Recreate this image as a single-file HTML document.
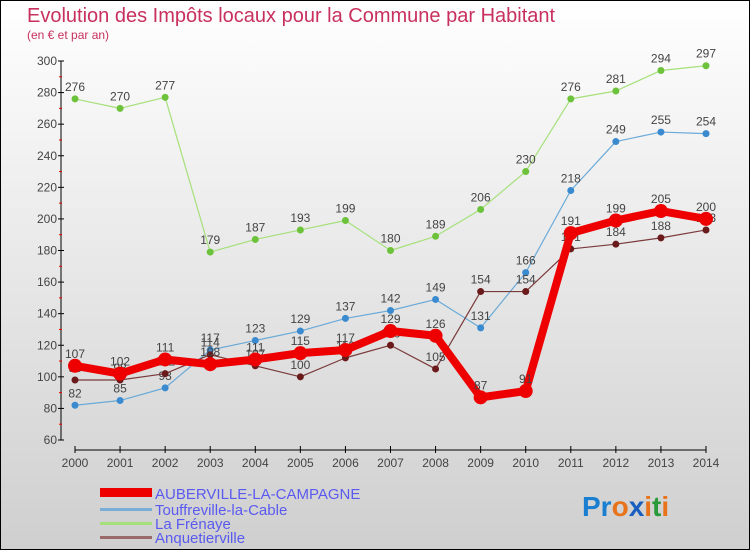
<!DOCTYPE html>
<html><head><meta charset="utf-8"><style>
body{margin:0;}
svg{display:block;font-family:"Liberation Sans",sans-serif;}
</style></head><body>
<svg id="c" width="750" height="550" viewBox="0 0 750 550">
<defs><linearGradient id="bg" x1="0" y1="0" x2="0" y2="1"><stop offset="0" stop-color="#ffffff"/><stop offset="1" stop-color="#cfcfcf"/></linearGradient></defs>
<rect x="0.5" y="0.5" width="749" height="549" fill="url(#bg)" stroke="#000"/>
<text x="27" y="22" font-size="20" fill="#c8305e">Evolution des Impôts locaux pour la Commune par Habitant</text>
<text x="27" y="39" font-size="12" fill="#c8305e">(en € et par an)</text>
<g id="axes"></g><g id="series"></g>
<g>
<rect x="100" y="488" width="52" height="9" fill="#e00"/>
<text x="155" y="499" font-size="15" fill="#5a5af0">AUBERVILLE-LA-CAMPAGNE</text>
<rect x="100" y="508" width="52" height="3" fill="#7aaed6"/>
<text x="155" y="515" font-size="15" fill="#5a5af0">Touffreville-la-Cable</text>
<rect x="100" y="522" width="52" height="3" fill="#a6e07a"/>
<text x="155" y="529" font-size="15" fill="#5a5af0">La Frénaye</text>
<rect x="100" y="536" width="52" height="3" fill="#9a6a6a"/>
<text x="155" y="543" font-size="15" fill="#5a5af0">Anquetierville</text>
</g>
<text x="582" y="516" font-size="28" font-weight="bold"><tspan fill="#1a7fd0">Pr</tspan><tspan fill="#e8731a">o</tspan><tspan fill="#1a5fc0">x</tspan><tspan fill="#e8731a">i</tspan><tspan fill="#2a9a3a">t</tspan><tspan fill="#e8731a">i</tspan></text>
</svg>
<script>
const years=[2000,2001,2002,2003,2004,2005,2006,2007,2008,2009,2010,2011,2012,2013,2014];
const yTicks=[60,80,100,120,140,160,180,200,220,240,260,280,300];
const auberville=[107,102,111,108,111,115,117,129,126,87,91,191,199,205,200];
const touffreville=[82,85,93,117,123,129,137,142,149,131,166,218,249,255,254];
const laFrenaye=[276,270,277,179,187,193,199,180,189,206,230,276,281,294,297];
const anquetierville=[98,98,102,114,107,100,112,120,105,154,154,181,184,188,193];
const NS="http://www.w3.org/2000/svg";
const xS=i=>75+i*(706-75)/(years.length-1);
const yS=v=>440-(v-60)*(440-61)/240;
function mk(tag,attrs,parent){const e=document.createElementNS(NS,tag);for(const k in attrs)e.setAttribute(k,attrs[k]);parent.appendChild(e);return e;}
const ax=document.getElementById('axes');
let a=mk('line',{x1:61,y1:61,x2:61,y2:440,stroke:'#000','stroke-width':1},ax);


yTicks.forEach((v,i)=>{
 mk('line',{x1:58,y1:yS(v),x2:64,y2:yS(v),stroke:'#000'},ax);
 if(i<yTicks.length-1) mk('line',{x1:59,y1:yS(v+10),x2:62,y2:yS(v+10),stroke:'#e00'},ax);
 const t=mk('text',{x:57,y:yS(v)+4,'font-size':12,fill:'#444','text-anchor':'end'},ax);
 t.textContent=v;
 
 
});
a=mk('line',{x1:75,y1:450,x2:706,y2:450,stroke:'#000'},ax);


years.forEach((y,i)=>{
 mk('line',{x1:xS(i),y1:446,x2:xS(i),y2:453,stroke:'#000'},ax);
 const t=mk('text',{x:xS(i),y:467,'font-size':12,fill:'#444','text-anchor':'middle'},ax);
 t.textContent=y;
 
 
});
const sg=document.getElementById('series');
function series(vals,name,color,dot,w,r){
 const g=mk('g',{},sg);
 
 
 const pl=mk('polyline',{points:vals.map((v,i)=>xS(i)+','+yS(v)).join(' '),fill:'none',stroke:color,'stroke-width':w,'stroke-linejoin':'round'},g);
 
 
 vals.forEach((v,i)=>{
  const c=mk('circle',{cx:xS(i),cy:yS(v),r:r,fill:dot},g);
  
  
  const t=mk('text',{x:xS(i),y:yS(v)-8,'font-size':12,fill:'#444','text-anchor':'middle'},g);
  t.textContent=v;
  
  
 });
}
series(laFrenaye,'la-frenaye','#a6e07a','#6cc23a',1.2,3.5);
series(touffreville,'touffreville','#6aaad8','#3a8ad0',1.2,3.5);
series(anquetierville,'anquetierville','#7a3a3a','#6a1a1a',1.2,3.5);
series(auberville,'auberville','#ee0000','#ee0000',8,7);
</script>
</body></html>
